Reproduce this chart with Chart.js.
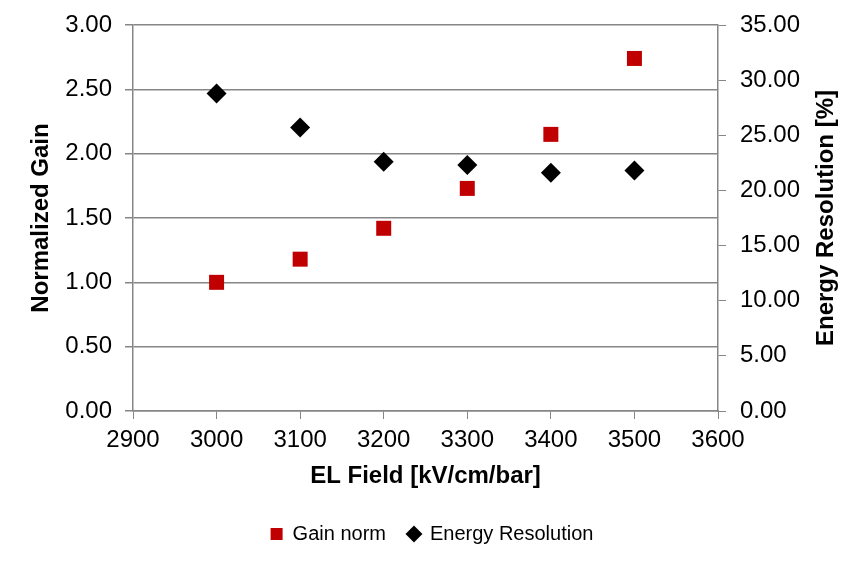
<!DOCTYPE html>
<html>
<head>
<meta charset="utf-8">
<title>Gain and Energy Resolution vs EL Field</title>
<script src="https://cdn.jsdelivr.net/npm/chart.js"></script>
<style>
  html, body { margin: 0; padding: 0; background: #fff; }
  #wrap { width: 864px; height: 565px; }
</style>
</head>
<body>
<div id="wrap"><canvas id="myChart"></canvas></div>
<script>
// EL field values (kV/cm/bar)
const fields = [3000, 3100, 3200, 3300, 3400, 3500];
// normalized gain (left axis)
const gainNorm = [1.00, 1.18, 1.42, 1.73, 2.15, 2.74];
// energy resolution in % (right axis)
const energyRes = [28.8, 25.7, 22.6, 22.3, 21.6, 21.8];

const axisGray = '#868686';
const fontFamily = '"Liberation Sans", Arial, sans-serif';
const rightTitle = 'Energy Resolution [%]';

function toPoints(xs, ys) {
  return xs.map((x, i) => ({ x: x, y: ys[i] }));
}

// right axis title reads bottom-to-top like the left one, chart.js rotates it the other way
const rightTitlePlugin = {
  id: 'rightTitle',
  afterDraw(chart) {
    const c = chart.ctx;
    const area = chart.chartArea;
    c.save();
    c.translate(826, (area.top + area.bottom) / 2);
    c.rotate(-Math.PI / 2);
    c.font = 'bold 24px ' + fontFamily;
    c.fillStyle = '#000';
    c.textAlign = 'center';
    c.textBaseline = 'middle';
    c.fillText(rightTitle, 0, 0);
    c.restore();
  }
};

const ctx = document.getElementById('myChart');
new Chart(ctx, {
  type: 'scatter',
  data: {
    datasets: [{
      label: 'Gain norm',
      data: toPoints(fields, gainNorm),
      yAxisID: 'y',
      pointStyle: 'rect',
      pointRadius: 10.6,
      pointHoverRadius: 10.6,
      backgroundColor: '#C00000',
      borderColor: '#C00000',
      borderWidth: 0
    }, {
      label: 'Energy Resolution',
      data: toPoints(fields, energyRes),
      yAxisID: 'y1',
      pointStyle: 'rectRot',
      pointRadius: 10,
      pointHoverRadius: 10,
      backgroundColor: '#000000',
      borderColor: '#000000',
      borderWidth: 0
    }]
  },
  options: {
    responsive: true,
    maintainAspectRatio: false,
    animation: false,
    layout: { padding: { top: 25, left: 0, right: 0, bottom: 11 } },
    plugins: {
      tooltip: { enabled: false },
      legend: {
        position: 'bottom',
        labels: {
          usePointStyle: true,
          boxWidth: 12,
          boxHeight: 12,
          padding: 22,
          color: '#000',
          font: { family: fontFamily, size: 20 }
        }
      }
    },
    scales: {
      x: {
        type: 'linear',
        min: 2900,
        max: 3600,
        ticks: {
          stepSize: 100,
          color: '#000',
          padding: 7,
          font: { family: fontFamily, size: 24 },
          callback: v => String(v)
        },
        grid: { display: true, drawOnChartArea: false, drawTicks: true, tickLength: 8, color: axisGray },
        border: { color: axisGray, width: 1.5 },
        title: {
          display: true,
          text: 'EL Field [kV/cm/bar]',
          color: '#000',
          font: { family: fontFamily, size: 24, weight: 'bold' },
          padding: { top: 0, bottom: 11 }
        },
        afterFit: s => { s.height = 91; }
      },
      y: {
        position: 'left',
        min: 0,
        max: 3,
        ticks: {
          stepSize: 0.5,
          color: '#000',
          padding: 13,
          font: { family: fontFamily, size: 24 },
          callback: v => v.toFixed(2)
        },
        grid: { color: axisGray, lineWidth: 1.5, tickLength: 8 },
        border: { color: axisGray, width: 1.5 },
        title: {
          display: true,
          text: 'Normalized Gain',
          color: '#000',
          font: { family: fontFamily, size: 24, weight: 'bold' },
          padding: { top: 27, bottom: 0 }
        },
        afterFit: s => { s.width = 133; s.paddingTop = 0; s.paddingBottom = 0; }
      },
      y1: {
        position: 'right',
        min: 0,
        max: 35,
        ticks: {
          stepSize: 5,
          color: '#000',
          padding: 14,
          font: { family: fontFamily, size: 24 },
          callback: v => v.toFixed(2)
        },
        grid: { display: true, drawOnChartArea: false, tickLength: 8, color: axisGray },
        border: { color: axisGray, width: 1.5 },
        title: { display: false },
        afterFit: s => { s.width = 146; s.paddingTop = 0; s.paddingBottom = 0; }
      }
    }
  },
  plugins: [rightTitlePlugin]
});
</script>
</body>
</html>
